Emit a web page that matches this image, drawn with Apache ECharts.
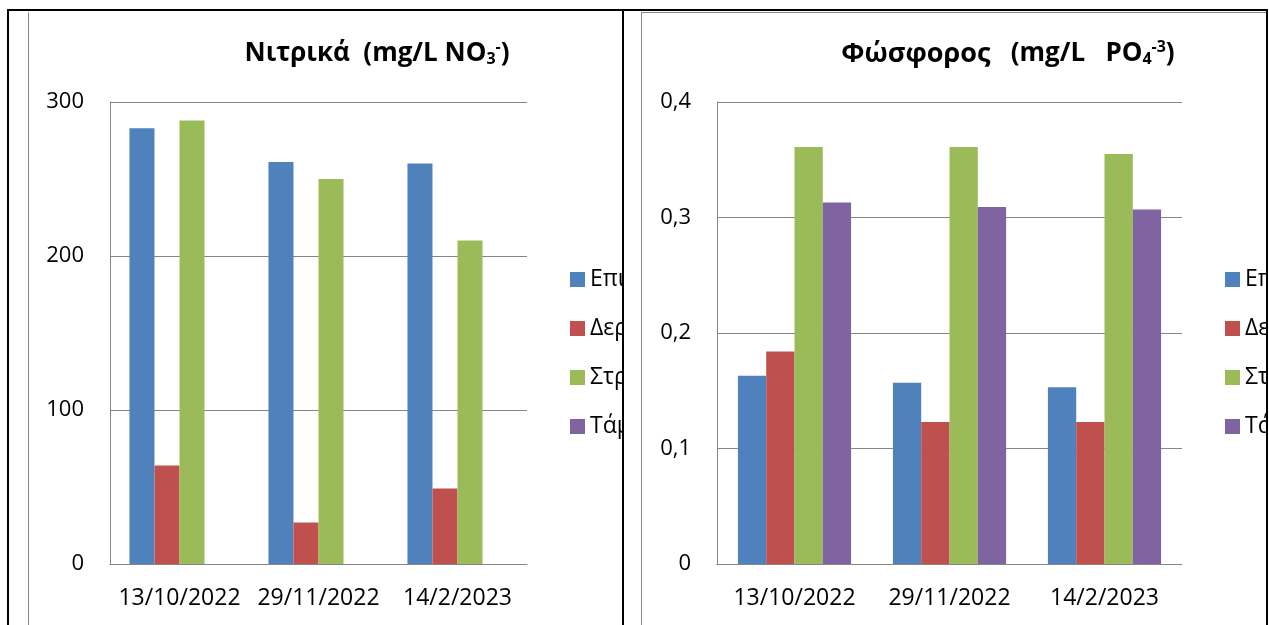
<!DOCTYPE html>
<html>
<head>
<meta charset="utf-8">
<script src="https://cdn.jsdelivr.net/npm/echarts@6/dist/echarts.min.js"></script>
<style>
  html, body { margin: 0; padding: 0; background: #fff; width: 1269px; height: 625px; overflow: hidden; }
  .cell { position: absolute; box-sizing: border-box; overflow: hidden; border-top: 2px solid #000; border-left: 2px solid #000; }
  .wrap { position: absolute; border: 1px solid #868686; background: #fff; }
  .chart { width: 100%; height: 100%; }
</style>
</head>
<body>
<div class="cell" id="cell1" style="left:7px; top:9px; width:616px; height:620px;">
  <div class="wrap" style="left:19px; top:1px; width:680px; height:640px; border-top-color:#fff;"><div class="chart" id="c1"></div></div>
</div>
<div class="cell" id="cell2" style="left:622px; top:9px; width:646px; height:620px; border-right:2px solid #000;">
  <div class="wrap" style="left:17px; top:1px; width:680px; height:640px;"><div class="chart" id="c2"></div></div>
</div>
<script>
// ---- data ----
const categories = ['13/10/2022', '29/11/2022', '14/2/2023'];
const seriesNames = ['Επιφανειακό', 'Δερβένι', 'Στράγγιση', 'Τάμπα'];
const colors = ['#4F81BD', '#C0504D', '#9BBB59', '#8064A2'];

const nitrateS1 = [283, 261, 260];
const nitrateS2 = [64, 27, 49];
const nitrateS3 = [288, 250, 210];
const nitrateS4 = [null, null, null];
const nitrateTicks = [0, 100, 200, 300];

const phosS1 = [0.163, 0.157, 0.153];
const phosS2 = [0.184, 0.123, 0.123];
const phosS3 = [0.361, 0.361, 0.355];
const phosS4 = [0.313, 0.309, 0.307];
const phosTicks = [0, 0.1, 0.2, 0.3, 0.4];

const FONT = '"Open Sans", "Noto Sans", sans-serif';

function makeOption(titleText, titleRich, titleLeft, gridLeft, gridWidth, ticks, data, legendLeft, catGap, fmt) {
  return {
    animation: false,
    textStyle: { fontFamily: FONT },
    title: {
      text: titleText,
      left: titleLeft,
      top: 26,
      padding: 0,
      textAlign: 'center',
      textStyle: { rich: titleRich }
    },
    legend: {
      orient: 'vertical',
      left: legendLeft,
      top: 255,
      padding: 0,
      itemWidth: 15,
      itemHeight: 15,
      itemGap: 26,
      icon: 'rect',
      data: seriesNames,
      textStyle: { fontFamily: FONT, fontSize: 23, color: '#000', lineHeight: 22, padding: [0, 0, 0, 0] },
      selectedMode: false
    },
    grid: { left: gridLeft, top: 89, width: gridWidth, height: 462 },
    xAxis: {
      type: 'category',
      data: categories,
      axisLine: { lineStyle: { color: '#868686', width: 1 } },
      axisTick: { show: false },
      axisLabel: { fontFamily: FONT, fontSize: 23, color: '#000', margin: 23, interval: 0 }
    },
    yAxis: {
      type: 'value',
      min: ticks[0],
      max: ticks[ticks.length - 1],
      interval: ticks[1] - ticks[0],
      axisLine: { show: true, lineStyle: { color: '#868686', width: 1 } },
      axisTick: { show: false },
      splitLine: { lineStyle: { color: '#868686', width: 1 } },
      axisLabel: { fontFamily: FONT, fontSize: 22, color: '#000', margin: 26, formatter: fmt }
    },
    series: data.map((d, i) => ({
      name: seriesNames[i],
      type: 'bar',
      data: d,
      itemStyle: { color: colors[i] },
      barGap: '0%',
      barCategoryGap: catGap
    }))
  };
}

const titleRich = {
  a: { fontFamily: FONT, fontSize: 26, fontWeight: 'bold', color: '#000', lineHeight: 30, verticalAlign: 'middle' },
  g: { fontFamily: FONT, fontSize: 27, fontWeight: 'bold', color: '#000', lineHeight: 30, verticalAlign: 'middle' },
  sub: { fontFamily: FONT, fontSize: 16, fontWeight: 'bold', color: '#000', lineHeight: 16, verticalAlign: 'bottom', padding: [0, 0, 2, 0] },
  sup: { fontFamily: FONT, fontSize: 16, fontWeight: 'bold', color: '#000', lineHeight: 16, verticalAlign: 'top', padding: [0, 0, 0, 0] }
};

const c1 = echarts.init(document.getElementById('c1'), null, { renderer: 'canvas' });
c1.setOption(makeOption(
  '{a|Νιτρικά  (mg/L NO}{sub|3}{sup|-}{a|)}', titleRich, 348,
  81, 417, nitrateTicks, [nitrateS1, nitrateS2, nitrateS3, nitrateS4], 541, '28%',
  v => String(v)
));

const c2 = echarts.init(document.getElementById('c2'), null, { renderer: 'canvas' });
c2.setOption(makeOption(
  '{g|Φώσφορος}{a|   (mg/L   PO}{sub|4}{sup|-3}{a|)}', titleRich, 366,
  75, 465, phosTicks, [phosS1, phosS2, phosS3, phosS4], 583, '27%',
  v => (Math.round(v * 10) / 10).toString().replace('.', ',')
));
</script>
</body>
</html>
